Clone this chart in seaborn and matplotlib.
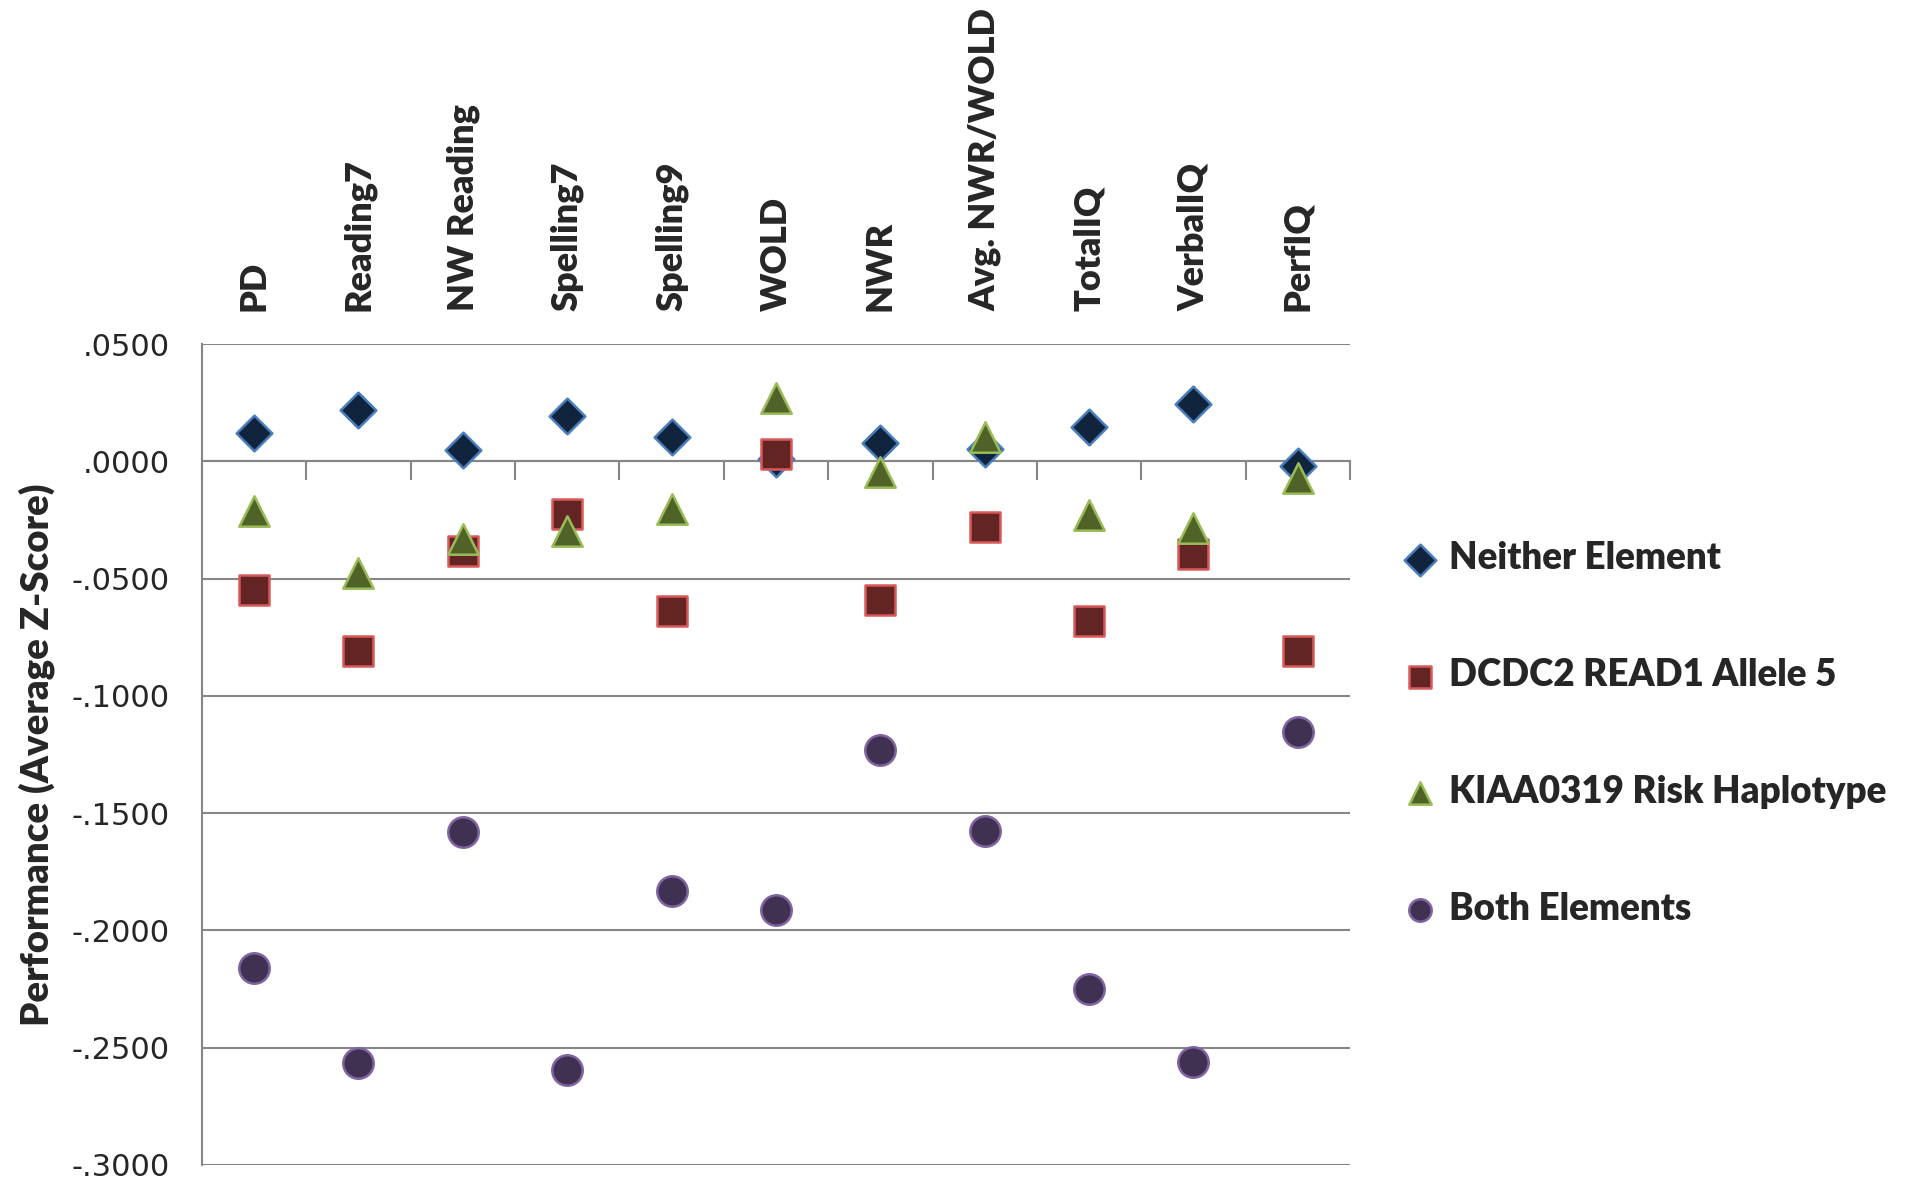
import numpy as np
import pandas as pd
import matplotlib
matplotlib.use("Agg")
import matplotlib.pyplot as plt
import seaborn as sns
from matplotlib.ticker import FuncFormatter

# phenotypes (x categories)
phenotypes = ["PD", "Reading7", "NW Reading", "Spelling7", "Spelling9", "WOLD",
              "NWR", "Avg. NWR/WOLD", "TotalIQ", "VerbalIQ", "PerfIQ"]

# average z-scores per group
neither = [0.0119, 0.0218, 0.0047, 0.0192, 0.0104, 0.0010, 0.0078, 0.0052, 0.0145, 0.0244, -0.0021]
dcdc2 = [-0.0549, -0.0808, -0.0383, -0.0223, -0.0637, 0.0031, -0.0591, -0.0280, -0.0679, -0.0394, -0.0808]
kiaa = [-0.0212, -0.0477, -0.0332, -0.0295, -0.0202, 0.0269, -0.0047, 0.0104, -0.0228, -0.0285, -0.0073]
both = [-0.2161, -0.2565, -0.1580, -0.2596, -0.1834, -0.1912, -0.1233, -0.1575, -0.2249, -0.2560, -0.1155]

group_names = ["Neither Element", "DCDC2 READ1 Allele 5", "KIAA0319 Risk Haplotype", "Both Elements"]

y_ticks = [0.05, 0.0, -0.05, -0.10, -0.15, -0.20, -0.25, -0.30]

# marker style per group: (marker, fill, edge, size)
styles = {
    "Neither Element": ("D", "#10243E", "#4A7EBB", 330),
    "DCDC2 READ1 Allele 5": ("s", "#632523", "#D9595B", 480),
    "KIAA0319 Risk Haplotype": ("^", "#4F6228", "#9BBB59", 480),
    "Both Elements": ("o", "#403152", "#8064A2", 480),
}

df = pd.DataFrame({
    "phenotype": phenotypes * 4,
    "score": neither + dcdc2 + kiaa + both,
    "group": np.repeat(group_names, len(phenotypes)),
})
df["phenotype"] = pd.Categorical(df["phenotype"], categories=phenotypes, ordered=True)

sns.set_style("white")
plt.rcParams["font.family"] = ["DejaVu Sans"]
bold_font = ["Lato", "DejaVu Sans"]

fig = plt.figure(figsize=(19.07, 11.89), dpi=100)
ax = fig.add_axes([0.1059, 0.0204, 0.602, 0.6902])

for g in group_names:
    m, fc, ec, s = styles[g]
    sub = df[df["group"] == g]
    sns.scatterplot(data=sub, x="phenotype", y="score", marker=m, color=fc,
                    edgecolor=ec, linewidth=1.8, s=s, label=g, ax=ax, zorder=3)

ax.set_ylim(-0.30, 0.05)
ax.set_xlim(-0.5, len(phenotypes) - 0.5)
ax.set_yticks(y_ticks)
ax.yaxis.set_major_formatter(FuncFormatter(lambda v, p: ("-" if v < -1e-9 else "") + ("%.4f" % abs(v))[1:]))
ax.tick_params(axis="y", labelsize=22, length=12, width=1.5, color="#868686", direction="out", pad=11)
ax.grid(axis="y", color="#868686", linewidth=1.5)
ax.set_axisbelow(True)

# x axis line sits at zero with ticks at category boundaries
ax.spines["bottom"].set_position(("data", 0))
ax.spines["bottom"].set_color("#868686")
ax.spines["bottom"].set_linewidth(1.5)
ax.spines["left"].set_color("#868686")
ax.spines["left"].set_linewidth(1.5)
ax.spines["top"].set_visible(False)
ax.spines["right"].set_visible(False)
ax.set_xticks(np.arange(-0.5, len(phenotypes), 1.0))
ax.set_xticklabels([])
ax.tick_params(axis="x", length=14, width=1.5, color="#868686", direction="out", bottom=True)
ax.set_xlabel("")

ax.set_ylabel("Performance (Average Z-Score)", fontsize=27.5, fontweight="heavy",
              family=bold_font, labelpad=12)

# phenotype names along the top
top = ax.secondary_xaxis("top")
top.set_xticks(range(len(phenotypes)))
top.set_xticklabels(phenotypes, rotation=90, fontsize=26, fontweight="heavy", family=bold_font)
top.tick_params(length=0, pad=24)
top.spines["top"].set_visible(False)

leg = ax.legend(loc="center left", bbox_to_anchor=(0.727, 0.383), bbox_transform=fig.transFigure,
                frameon=False, handlelength=1.0, handletextpad=0.3, labelspacing=2.25,
                borderaxespad=0, prop={"family": bold_font, "weight": "heavy", "size": 26.5})
for h in leg.legend_handles:
    h.set_sizes([260])

fig.savefig("out.png", dpi=100)
